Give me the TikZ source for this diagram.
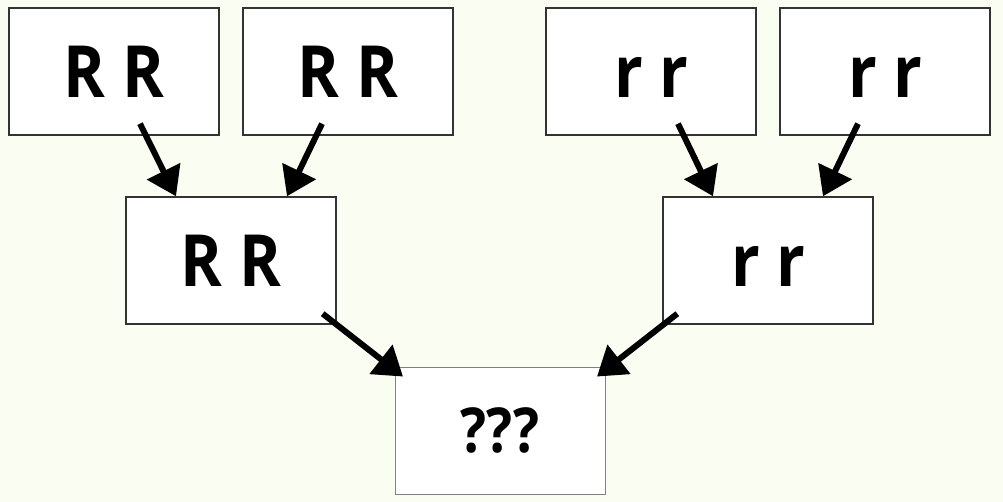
\documentclass[tikz,border=0pt]{standalone}
\usepackage{xcolor}
\definecolor{bgcolor}{RGB}{250, 253, 242}
\definecolor{edgecolor}{RGB}{51, 51, 51}
\usepackage{fontspec}
\setmainfont{Open Sans}[FakeStretch=0.88]
\usetikzlibrary{arrows.meta}

\begin{document}
\begin{tikzpicture}[x=1pt,y=-1pt,
  allele/.style={draw=edgecolor,line width=1.4pt,fill=white,
    minimum width=210pt,minimum height=127pt,inner sep=0pt,
    text height=53pt,text depth=0pt,
    font=\fontsize{72}{78}\selectfont\bfseries},
  cross/.style={line width=6pt,-{Triangle[width=36pt,length=28pt]}}]
\fill [bgcolor] (0,0) rectangle (1003,502);
\useasboundingbox (0,0) rectangle (1003,502);

\node [allele] (RR1) at (114,71.5) {R R};
\node [allele] (RR2) at (348,71.5) {R R};
\node [allele] (rr1) at (651,71.5) {r r};
\node [allele] (rr2) at (885,71.5) {r r};
\node [allele] (RRc) at (231,260.5) {R R};
\node [allele] (rrc) at (768,260.5) {r r};
\node [allele,draw=gray,line width=0.9pt,text height=43pt,
  font=\fontsize{62}{68}\selectfont\bfseries] (q) at (500,430.5) {???};

\draw [cross] ([xshift=26pt,yshift=12pt]RR1.south)
  -- ([xshift=-55pt]RRc.north);
\draw [cross] ([xshift=-26pt,yshift=12pt]RR2.south)
  -- ([xshift=56pt]RRc.north);
\draw [cross] ([xshift=27pt,yshift=12pt]rr1.south)
  -- ([xshift=-55pt]rrc.north);
\draw [cross] ([xshift=-27pt,yshift=12pt]rr2.south)
  -- ([xshift=55pt]rrc.north);
\draw [cross] ([xshift=-14pt,yshift=11pt]RRc.south east)
  -- ([xshift=-97pt,yshift=-10pt]q.north);
\draw [cross] ([xshift=15pt,yshift=11pt]rrc.south west)
  -- ([xshift=97pt,yshift=-10pt]q.north);
\end{tikzpicture}
\end{document}
